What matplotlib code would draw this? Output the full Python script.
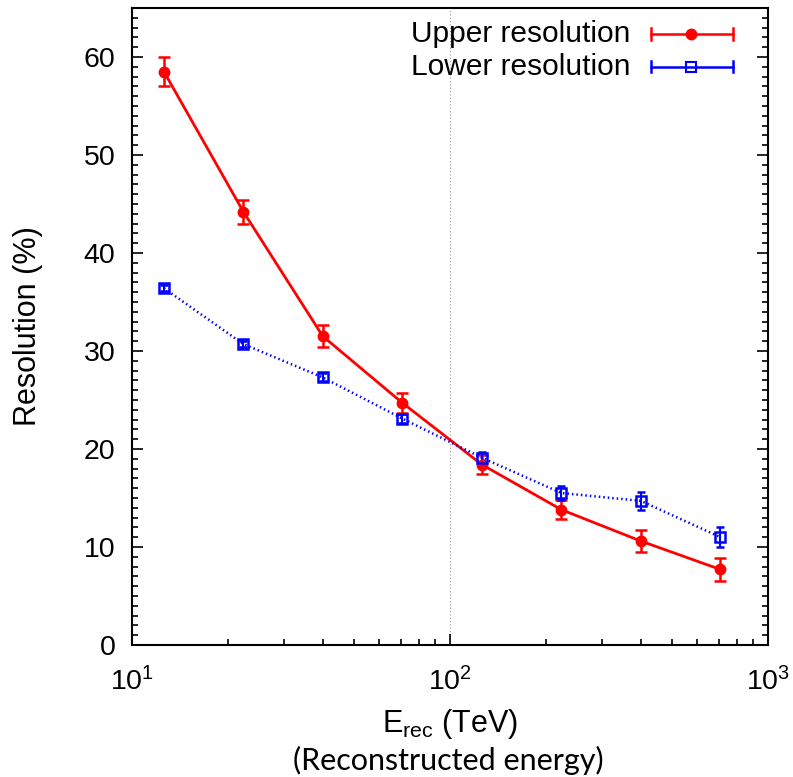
import matplotlib.pyplot as plt
from matplotlib.ticker import MultipleLocator, LogLocator, NullFormatter

plt.rcParams['font.family'] = ['Liberation Sans', 'DejaVu Sans']
plt.rcParams['mathtext.fontset'] = 'custom'
plt.rcParams['mathtext.rm'] = 'Liberation Sans'
plt.rcParams['mathtext.it'] = 'Liberation Sans:italic'

# reconstructed energy bin centres (TeV), 0.25 decade wide
energy = [12.6, 22.4, 39.8, 70.8, 126, 224, 398, 708]

upper = [58.5, 44.2, 31.5, 24.7, 18.4, 13.8, 10.6, 7.7]
upper_err = [1.5, 1.2, 1.1, 1.0, 1.0, 1.0, 1.1, 1.2]

lower = [36.4, 30.7, 27.3, 23.1, 19.1, 15.5, 14.7, 11.0]
lower_err = [0.3, 0.3, 0.4, 0.5, 0.6, 0.7, 0.95, 1.0]

labels = ['Upper resolution', 'Lower resolution']
colors = ['#ff0000', '#0000ff']

fig = plt.figure(figsize=(7.93, 7.77), dpi=100)
ax = fig.add_axes([0.1665, 0.170, 0.802, 0.8197])

ax.axvline(100, color='#999999', lw=0.8, ls=(0, (1, 2)), zorder=0)

ax.errorbar(energy, upper, yerr=upper_err, color=colors[0], lw=2.0,
            marker='o', ms=7.5, capsize=4, capthick=1.8, elinewidth=1.8)
ax.errorbar(energy, lower, yerr=lower_err, color=colors[1], lw=1.8,
            ls=(0, (0.6, 1.2)), marker='s', ms=7, mfc='none', mew=1.8,
            capsize=3, capthick=1.5, elinewidth=1.5)

ax.set_xscale('log')
ax.set_xlim(10, 1000)
ax.set_ylim(0, 65)
ax.yaxis.set_major_locator(MultipleLocator(10))
ax.yaxis.set_minor_locator(MultipleLocator(1))
ax.xaxis.set_minor_locator(LogLocator(base=10, subs=range(2, 10)))
ax.xaxis.set_minor_formatter(NullFormatter())

ax.tick_params(which='both', direction='in', top=False, right=True,
               labelsize=20.5, width=1.2)
ax.tick_params(axis='y', which='major', length=8, pad=12)
ax.tick_params(axis='y', which='minor', length=4)
ax.tick_params(axis='x', which='major', length=8, pad=16)
ax.tick_params(axis='x', which='minor', length=4)
for s in ax.spines.values():
    s.set_linewidth(1.5)

ax.set_ylabel('Resolution (%)', fontsize=22, labelpad=29)
ax.set_xlabel(r'E$_{\mathrm{rec}}$ (TeV)', fontsize=22)
ax.xaxis.set_label_coords(0.5, -0.097)
fig.text(0.565, 0.021, '(Reconstructed energy)', fontsize=22,
         family=['Lato', 'DejaVu Sans'], ha='center', va='center')

# key in the top right corner: label, then a horizontal bar with end caps
rows = [0.959, 0.908]
markers = [dict(marker='o', ms=7.5, mfc=colors[0]),
           dict(marker='s', ms=7, mfc='none', mew=1.5)]
for yy, lab, c, mk in zip(rows, labels, colors, markers):
    ax.text(0.783, yy, lab, transform=ax.transAxes, ha='right', va='center',
            fontsize=21.5)
    ax.plot([0.816, 0.945], [yy, yy], color=c, lw=1.8, transform=ax.transAxes,
            clip_on=False)
    for xx in (0.816, 0.945):
        ax.plot([xx, xx], [yy - 0.009, yy + 0.009], color=c, lw=1.8,
                transform=ax.transAxes, clip_on=False)
    ax.plot([0.879], [yy], color=c, transform=ax.transAxes, clip_on=False,
            **mk)

fig.savefig('out.png', dpi=100)
